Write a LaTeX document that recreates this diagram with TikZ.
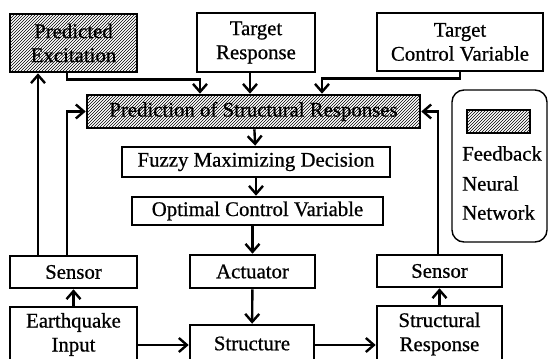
\documentclass[tikz,border=0pt]{standalone}
\usepackage{fontspec}
\setmainfont{Liberation Serif}[FakeBold=0.7]
\usetikzlibrary{arrows.meta, positioning, patterns}

\begin{document}
\begin{tikzpicture}[
        x=1pt, y=-1pt,
        font=\fontsize{20.8}{24}\selectfont,
        box/.style={draw, line width=2.6pt, inner sep=0pt, align=center},
        hatch/.style={box, pattern=north east lines},
        legendbox/.style={draw, line width=1.4pt, rounded corners=12pt, minimum width=95, minimum height=152},
        arrow/.style={-{Straight Barb[length=8pt, width=14pt]}, line width=2.4pt}
    ]
        \clip (0,0) rectangle (550,359);
        \fill[white] (0,0) rectangle (550,359);

        % top row
        \node[hatch, minimum width=127, minimum height=58] (pexc) at (73.5,43) {Predicted\\Excitation};
        \node[box, minimum width=118, minimum height=59] (tresp) at (256,42.5) {Target\\Response};
        \node[box, minimum width=166, minimum height=58] (tcv) at (460,42) {Target\\Control Variable};

        % main column
        \node[hatch, minimum width=333, minimum height=33] (pred) at (253.5,111.5) {Prediction of Structural Responses};
        \node[box, minimum width=268, minimum height=30] (fuzzy) at (256,162) {Fuzzy Maximizing Decision};
        \node[box, minimum width=251, minimum height=28] (ocv) at (257.5,211) {Optimal Control Variable};

        % sensors and actuator
        \node[box, minimum width=127, minimum height=32] (lsens) at (73.5,272) {Sensor};
        \node[box, minimum width=125, minimum height=33] (act) at (252.5,271.5) {Actuator};
        \node[box, minimum width=125, minimum height=32] (rsens) at (439.5,271) {Sensor};

        % bottom row (cut off by the page edge)
        \node[box, minimum width=127, minimum height=55] (eq) at (73.5,334.5) {Earthquake\\Input};
        \node[box, minimum width=124, minimum height=37] (str) at (252,343.5) {Structure};
        \node[box, minimum width=125, minimum height=56] (sresp) at (439.5,334) {Structural\\Response};

        % legend
        \node[legendbox] (legend) at (499.5,166) {};
        \node[draw, line width=2pt, pattern=north east lines, minimum width=63, minimum height=23, inner sep=0pt] (legsw) at (498.5,121.5) {};
        \node[anchor=north west, align=left, inner sep=0pt] (legtxt) at (462,146) {Feedback\\[6pt]Neural\\[5pt]Network};

        % inputs to the prediction block
        \draw[arrow] ([xshift=-6.5]pexc.south) -- ++(0,6) -| ([xshift=-53.5]pred.north);
        \draw[arrow] ([xshift=-6]tresp.south) -- ([xshift=-6]tresp.south |- pred.north);
        \draw[arrow] (tcv.south) -- ++(0,6) -| ([xshift=68.5]pred.north);

        % decision chain
        \draw[arrow] (pred) -- (fuzzy);
        \draw[arrow] (fuzzy) -- (fuzzy.south |- ocv.north);
        \draw[arrow] (ocv.south -| act.north) -- (act);
        \draw[arrow] (act) -- (str);

        % plant
        \draw[arrow] ([yshift=-10.5]eq.east) -- ([yshift=-10.5]eq.east -| str.west);
        \draw[arrow] ([yshift=-10.5]eq.east -| str.east) -- ([yshift=-10.5]eq.east -| sresp.west);
        \draw[arrow] (eq) -- (lsens);
        \draw[arrow] (sresp) -- (rsens);

        % feedback
        \draw[arrow] ([xshift=-35.5]lsens.north) -- ([xshift=-35.5]pexc.south);
        \draw[arrow] ([xshift=-6.5]lsens.north) |- (pred.west);
        \draw[arrow] ([xshift=-1.5]rsens.north) |- (pred.east);

    \end{tikzpicture}
\end{document}
